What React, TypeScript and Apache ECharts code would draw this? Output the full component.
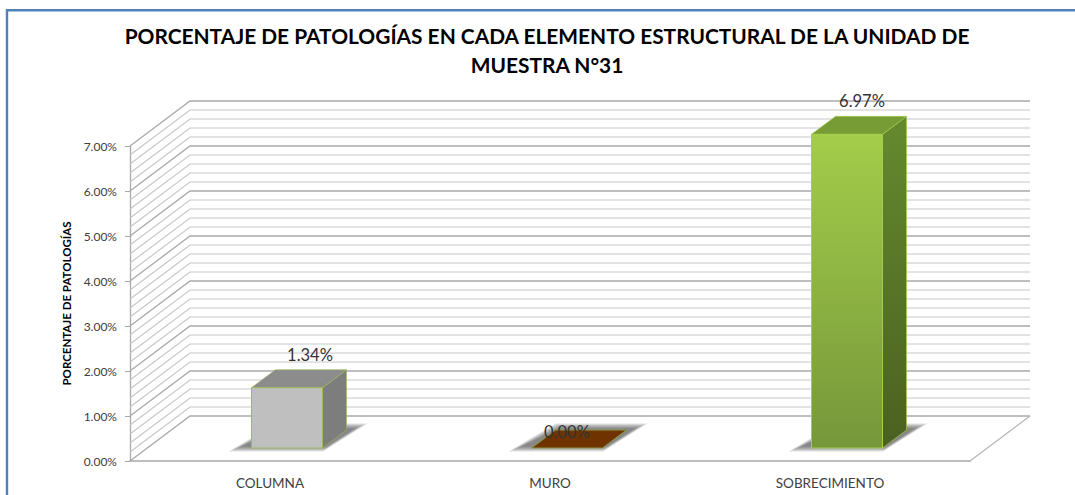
import React, { useEffect, useRef } from "react";
import * as echarts from "echarts";

const categories = ["COLUMNA", "MURO", "SOBRECIMIENTO"];
const values = [1.34, 0, 6.97];
const valueLabels = ["1.34%", "0.00%", "6.97%"];
const yMax = 7;
const yStep = 1;
const wallLevels = [
  0, 0.2, 0.4, 0.6, 0.8, 1, 1.2, 1.4, 1.6, 1.8, 2, 2.2, 2.4, 2.6, 2.8, 3, 3.2, 3.4, 3.6, 3.8, 4, 4.2, 4.4, 4.6, 4.8,
  5, 5.2, 5.4, 5.6, 5.8, 6, 6.2, 6.4, 6.6, 6.8, 7,
];
const titleText = "PORCENTAJE DE PATOLOGÍAS EN CADA ELEMENTO ESTRUCTURAL DE LA UNIDAD DE\nMUESTRA N°31";
const yName = "PORCENTAJE DE PATOLOGÍAS";

const FONT = "Lato, Carlito, 'Open Sans', sans-serif";
const WALL_DX = 60;
const WALL_DY = 45;
const FRONT_DX = 17;
const FRONT_DY = 13;
const BAR_W = 71;
const BAR_DX = 24;
const BAR_DY = 18;
const labelShift = [
  [23, -15],
  [0, 2],
  [15, -15],
];
const shadowSteps = [14, 12.5, 11, 9.5, 8, 6.5, 5, 3.5, 2, 0.5];

const grad = (a: string, b: string) =>
  new echarts.graphic.LinearGradient(0, 0, 0, 1, [
    { offset: 0, color: a },
    { offset: 1, color: b },
  ]);

const barStyles = [
  { front: "#bfbfbf", top: "#8c8c8c", side: "#7d7d7d", edge: "#9bbb59" },
  { front: "#6f3300", top: "#6f3300", side: "#6f3300", edge: "#8a9a40" },
  {
    front: grad("#a3cd4a", "#76973a"),
    top: "#779c35",
    side: grad("#648a2e", "#4b6021"),
    edge: "#a3cd4a",
  },
];

const renderWall = (params: any, api: any) => {
  const level = api.value(0);
  const p = api.coord([0, level]);
  const cs = params.coordSys;
  const major = Number.isInteger(level);
  const left = cs.x;
  const right = cs.x + cs.width;
  return {
    type: "polyline",
    shape: {
      points: [
        [left, p[1]],
        [left + WALL_DX, p[1] - WALL_DY],
        [right + WALL_DX, p[1] - WALL_DY],
      ],
    },
    style: { fill: "none", stroke: major ? "#a9a9a9" : "#c8c8c8", lineWidth: major ? 1.3 : 1.2 },
    silent: true,
  };
};

const renderFloorEdge = (params: any, api: any) => {
  const p = api.coord([0, api.value(0)]);
  const cs = params.coordSys;
  const right = cs.x + cs.width;
  return {
    type: "line",
    shape: { x1: right, y1: p[1], x2: right + WALL_DX, y2: p[1] - WALL_DY },
    style: { stroke: "#b5b5b5", lineWidth: 1.3 },
    silent: true,
  };
};

const renderBar = (params: any, api: any) => {
  const i = params.dataIndex;
  const c = api.coord([api.value(0), 0]);
  const t = api.coord([api.value(0), api.value(1)]);
  const x0 = c[0] + FRONT_DX - BAR_W / 2;
  const x1 = x0 + BAR_W;
  const yb = c[1] - FRONT_DY;
  const yt = t[1] - FRONT_DY;
  const s = barStyles[i];
  const children: any[] = shadowSteps.map((e) => ({
    type: "polygon",
    shape: {
      points: [
        [x0 - 24 + e, yb + 4 - e * 0.4],
        [x1 + e * 0.3, yb + 4 - e * 0.4],
        [x1 + BAR_DX + 22 - e, yb - BAR_DY - 7 + e * 0.4],
        [x0 + BAR_DX + e * 0.3, yb - BAR_DY - 7 + e * 0.4],
      ],
    },
    style: { fill: "rgba(60,60,60,0.085)" },
  }));
  if (yb - yt > 0.5) {
    children.push(
      {
        type: "polygon",
        shape: { points: [[x1, yt], [x1 + BAR_DX, yt - BAR_DY], [x1 + BAR_DX, yb - BAR_DY], [x1, yb]] },
        style: { fill: s.side, stroke: s.edge, lineWidth: 0.6 },
      },
      {
        type: "polygon",
        shape: { points: [[x0, yt], [x0 + BAR_DX, yt - BAR_DY], [x1 + BAR_DX, yt - BAR_DY], [x1, yt]] },
        style: { fill: s.top, stroke: s.edge, lineWidth: 0.6 },
      },
      {
        type: "rect",
        shape: { x: x0, y: yt, width: BAR_W, height: yb - yt },
        style: { fill: s.front, stroke: s.edge, lineWidth: 1 },
      }
    );
  } else {
    children.push({
      type: "polygon",
      shape: { points: [[x0, yb], [x0 + BAR_DX, yb - BAR_DY], [x1 + BAR_DX, yb - BAR_DY], [x1, yb]] },
      style: { fill: s.top, stroke: s.edge, lineWidth: 1 },
    });
  }
  children.push({
    type: "text",
    style: {
      x: x0 + BAR_W / 2 + labelShift[i][0],
      y: yt - BAR_DY + labelShift[i][1],
      text: valueLabels[i],
      fill: "#333333",
      font: `16.5px ${FONT}`,
      align: "center",
      verticalAlign: "middle",
    },
  });
  return { type: "group", children };
};

export default function App() {
  const ref = useRef<HTMLDivElement>(null);
  useEffect(() => {
    document.body.style.margin = "0";
    const chart = echarts.init(ref.current!, undefined, { renderer: "svg" });
    chart.setOption({
      animation: false,
      backgroundColor: "#ffffff",
      title: {
        text: titleText,
        left: 542,
        top: 16,
        textAlign: "center",
        textStyle: { fontFamily: FONT, fontWeight: "bold", fontSize: 20.9, color: "#000000", lineHeight: 29 },
      },
      graphic: [
        {
          type: "polyline",
          z: 100,
          silent: true,
          shape: { points: [[7, 495], [7, 10.3], [1075, 10.3]] },
          style: { fill: "none", stroke: "#4f81bd", lineWidth: 2.4 },
        },
      ],
      grid: { left: 130, top: 146, width: 840, height: 315 },
      xAxis: {
        type: "category",
        data: categories,
        axisLine: { show: true, lineStyle: { color: "#bdbdbd", width: 2 } },
        axisTick: { show: false },
        axisLabel: { color: "#404040", fontFamily: FONT, fontSize: 13.5, margin: 15 },
      },
      yAxis: {
        type: "value",
        min: 0,
        max: yMax,
        interval: yStep,
        name: yName,
        nameLocation: "middle",
        nameRotate: 90,
        nameGap: 50,
        nameTextStyle: { color: "#000000", fontFamily: FONT, fontWeight: "bold", fontSize: 11.5 },
        axisLine: { show: true, lineStyle: { color: "#a9a9a9", width: 1.3 } },
        axisTick: { show: true, length: 5, lineStyle: { color: "#a9a9a9" } },
        axisLabel: {
          color: "#404040",
          fontFamily: FONT,
          fontSize: 12,
          margin: 13,
          formatter: (v: number) => v.toFixed(2) + "%",
        },
        splitLine: { show: false },
      },
      series: [
        {
          type: "custom",
          coordinateSystem: "cartesian2d",
          renderItem: renderWall,
          data: wallLevels.map((v) => [v]),
          encode: { y: 0 },
          clip: false,
          silent: true,
          z: 1,
        },
        {
          type: "custom",
          coordinateSystem: "cartesian2d",
          renderItem: renderFloorEdge,
          data: [[0]],
          encode: { y: 0 },
          clip: false,
          silent: true,
          z: 1,
        },
        {
          type: "custom",
          coordinateSystem: "cartesian2d",
          renderItem: renderBar,
          data: values.map((v, i) => [i, v]),
          encode: { x: 0, y: 1 },
          clip: false,
          silent: true,
          z: 5,
        },
      ],
    });
    return () => chart.dispose();
  }, []);
  return <div ref={ref} style={{ position: "fixed", left: 0, top: 0, width: 1075, height: 495 }} />;
}
